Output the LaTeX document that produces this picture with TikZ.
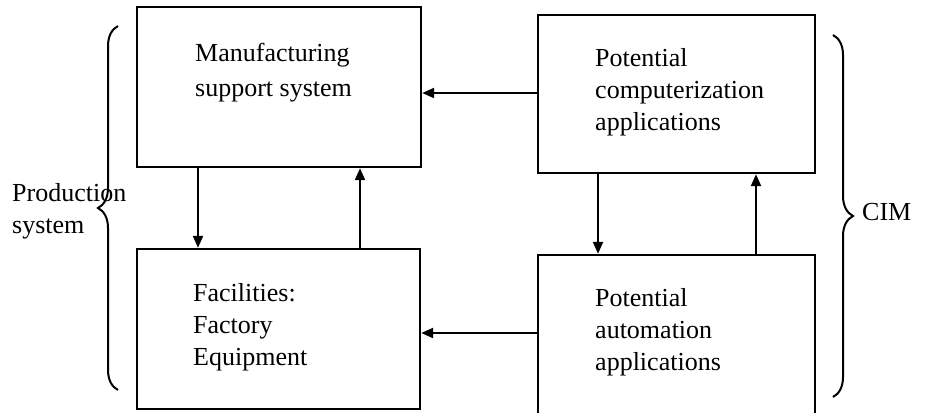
\documentclass[tikz,border=0pt]{standalone}
\usepackage{fontspec}
\setmainfont{Liberation Serif}
\usetikzlibrary{arrows.meta,decorations.pathreplacing}
\begin{document}
\begin{tikzpicture}[x=1pt,y=-1pt,
  box/.style={draw,line width=2.4pt,rectangle,inner sep=0pt,minimum width=#1},
  lbl/.style={anchor=north west,inner sep=0pt,align=left,font=\fontsize{26}{32}\selectfont},
  arr/.style={line width=2.2pt,-{Triangle[length=12pt,width=10pt]}},
  brc/.style={line width=2pt,decorate,decoration={brace,amplitude=20pt}}]
\useasboundingbox (0,0) rectangle (933,412);
% boxes
\node[box=284pt,minimum height=160pt] (mss) at (279,87) {};
\node[box=283pt,minimum height=160pt] (fac) at (278.5,329) {};
\node[box=277pt,minimum height=158pt] (pca) at (676.5,94) {};
\node[box=277pt,minimum height=160pt] (paa) at (676.5,335) {};
% texts
\node[lbl,font=\fontsize{26}{35}\selectfont] (tmss) at (195,43) {Manufacturing\\support system};
\node[lbl] (tfac) at (193,283) {Facilities:\\Factory\\Equipment};
\node[lbl] (tpca) at (595,48) {Potential\\computerization\\applications};
\node[lbl] (tpaa) at (595,288) {Potential\\automation\\applications};
\node[lbl] (tps) at (12,183) {Production\\system};
\node[lbl] (tcim) at (862,203) {CIM};
% helper x positions
\coordinate (xa) at (198,0);
\coordinate (xb) at (360,0);
\coordinate (xc) at (598,0);
\coordinate (xd) at (756,0);
\coordinate (ya) at (0,93);
\coordinate (yb) at (0,333);
% arrows
\draw[arr] (mss.south -| xa) -- (fac.north -| xa);
\draw[arr] (fac.north -| xb) -- (mss.south -| xb);
\draw[arr] (pca.west |- ya) -- (mss.east |- ya);
\draw[arr] (paa.west |- yb) -- (fac.east |- yb);
\draw[arr] (pca.south -| xc) -- (paa.north -| xc);
\draw[arr] (paa.north -| xd) -- (pca.south -| xd);
% braces
\coordinate (lb1) at (118,390);
\coordinate (lb2) at (118,26);
\coordinate (rb1) at (833,35);
\coordinate (rb2) at (833,397);
\draw[brc] (lb1) -- (lb2);
\draw[brc] (rb1) -- (rb2);
\end{tikzpicture}
\end{document}
